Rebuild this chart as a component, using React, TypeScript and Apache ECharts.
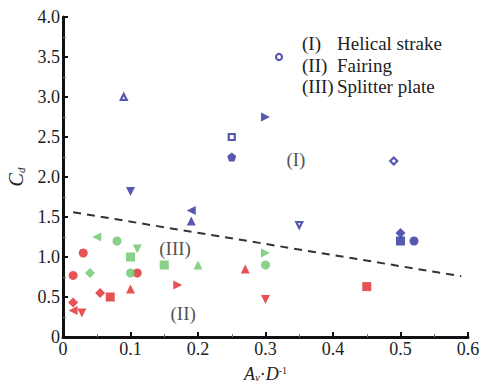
import React, { useEffect, useRef } from "react";
import * as echarts from "echarts";

// Helical strake (I)
const helicalX = [0.32, 0.09, 0.30, 0.25, 0.25, 0.49, 0.10, 0.19, 0.19, 0.35, 0.50, 0.50, 0.52];
const helicalY = [3.5, 3.0, 2.75, 2.5, 2.25, 2.2, 1.82, 1.58, 1.45, 1.4, 1.3, 1.2, 1.2];
const helicalShape = ["circle", "triangle", "right", "rect", "pentagon", "diamond", "down", "left", "triangle", "down", "diamond", "rect", "circle"];
const helicalOpen = [true, true, false, true, false, true, false, false, false, true, false, false, false];

// Fairing (II)
const fairingX = [0.03, 0.015, 0.11, 0.27, 0.10, 0.17, 0.055, 0.07, 0.45, 0.30, 0.015, 0.015, 0.028];
const fairingY = [1.05, 0.77, 0.8, 0.85, 0.6, 0.65, 0.55, 0.5, 0.63, 0.47, 0.43, 0.33, 0.3];
const fairingShape = ["circle", "circle", "circle", "triangle", "triangle", "right", "diamond", "rect", "rect", "down", "diamond", "left", "down"];

// Splitter plate (III)
const splitterX = [0.05, 0.08, 0.11, 0.10, 0.15, 0.20, 0.30, 0.30, 0.04, 0.10];
const splitterY = [1.25, 1.2, 1.1, 1.0, 0.9, 0.9, 1.05, 0.9, 0.8, 0.8];
const splitterShape = ["left", "circle", "down", "rect", "rect", "triangle", "right", "circle", "diamond", "circle"];

// Boundary (dashed)
const boundaryX = [0.015, 0.59];
const boundaryY = [1.56, 0.76];

const xTicks = [0, 0.1, 0.2, 0.3, 0.4, 0.5, 0.6];
const yTicks = [0, 0.5, 1.0, 1.5, 2.0, 2.5, 3.0, 3.5, 4.0];

const regionLabels = ["(I)", "(II)", "(III)"];
const regionX = [0.345, 0.178, 0.166];
const regionY = [2.22, 0.3, 1.11];

const legendTags = ["(I)", "(II)", "(III)"];
const legendNames = ["Helical strake", "Fairing", "Splitter plate"];

const BLUE = "#2d2f9e";
const RED = "#e0282d";
const GREEN = "#6cc46a";
const FONT = "Liberation Serif";

const SYMBOLS: Record<string, string> = {
  circle: "circle",
  rect: "rect",
  triangle: "triangle",
  diamond: "diamond",
  down: "path://M0,0 L10,0 L5,9 Z",
  left: "path://M9,0 L9,10 L0,5 Z",
  right: "path://M0,0 L0,10 L9,5 Z",
  pentagon: "path://M5,0 L10,3.8 L8.1,10 L1.9,10 L0,3.8 Z",
};

function points(xs: number[], ys: number[], shapes: string[], color: string, open?: boolean[]) {
  return xs.map((x, i) => {
    const o = open ? open[i] : false;
    const base = shapes[i] === "diamond" ? 10 : 9;
    return {
      value: [x, ys[i]],
      symbol: SYMBOLS[shapes[i]],
      symbolSize: o ? base - 3 : base,
      itemStyle: o
        ? { color: "#ffffff", borderColor: color, borderWidth: 2.2 }
        : { color, borderWidth: 0 },
    };
  });
}

export default function App() {
  const ref = useRef<HTMLDivElement>(null);
  useEffect(() => {
    document.body.style.margin = "0";
    const chart = echarts.init(ref.current!, null, { renderer: "svg" });
    const tickFmt = (v: number) => (v === 0 ? "0" : v.toFixed(1));
    const gridLeft = 63, gridRight = 13, gridTop = 17, gridBottom = 48;
    chart.setOption({
      animation: false,
      backgroundColor: "#ffffff",
      grid: {
        left: gridLeft,
        right: gridRight,
        top: gridTop,
        bottom: gridBottom,
        containLabel: false,
        outerBoundsMode: "none",
      },
      xAxis: {
        type: "value",
        min: xTicks[0],
        max: xTicks[xTicks.length - 1],
        interval: 0.1,
        axisLine: { show: true, lineStyle: { color: "#111", width: 3 } },
        axisTick: { show: true, inside: true, length: 5, lineStyle: { color: "#111", width: 2 } },
        minorTick: { show: true, splitNumber: 2, length: 3, lineStyle: { color: "#777", width: 1 } },
        splitLine: { show: false },
        axisLabel: { formatter: tickFmt, fontFamily: FONT, fontSize: 18, color: "#222", margin: 3 },
        name: "{i|A}{sub|v}{n|·}{i|D}{sup|-1}",
        nameLocation: "middle",
        nameGap: 28,
        nameTextStyle: {
          rich: {
            i: { fontFamily: FONT, fontStyle: "italic", fontSize: 18, color: "#222" },
            n: { fontFamily: FONT, fontSize: 18, color: "#222" },
            sub: { fontFamily: FONT, fontStyle: "italic", fontSize: 11, color: "#222", padding: [5, 0, 0, 0] },
            sup: { fontFamily: FONT, fontSize: 10, color: "#222", padding: [0, 0, 7, 0] },
          },
        },
      },
      yAxis: {
        type: "value",
        min: yTicks[0],
        max: yTicks[yTicks.length - 1],
        interval: 0.5,
        axisLine: { show: true, lineStyle: { color: "#111", width: 3 } },
        axisTick: { show: true, inside: true, length: 5, lineStyle: { color: "#111", width: 2 } },
        minorTick: { show: true, splitNumber: 2, length: 3, lineStyle: { color: "#777", width: 1 } },
        splitLine: { show: false },
        axisLabel: { formatter: tickFmt, fontFamily: FONT, fontSize: 18, color: "#222", margin: 3 },
        name: "{i|C}{sub|d}",
        nameLocation: "middle",
        nameRotate: 90,
        nameGap: 35,
        nameTextStyle: {
          rich: {
            i: { fontFamily: FONT, fontStyle: "italic", fontSize: 20, color: "#222" },
            sub: { fontFamily: FONT, fontStyle: "italic", fontSize: 11, color: "#222", padding: [10, 0, 0, 0] },
          },
        },
      },
      series: [
        {
          type: "line",
          data: boundaryX.map((x, i) => [x, boundaryY[i]]),
          showSymbol: false,
          symbol: "none",
          lineStyle: { color: "#333", width: 2, type: [8, 6] },
          z: 1,
        },
        { type: "scatter", data: points(helicalX, helicalY, helicalShape, BLUE, helicalOpen), z: 3 },
        { type: "scatter", data: points(fairingX, fairingY, fairingShape, RED), z: 3 },
        { type: "scatter", data: points(splitterX, splitterY, splitterShape, GREEN), z: 3 },
        {
          type: "scatter",
          symbolSize: 0,
          data: regionLabels.map((t, i) => ({ value: [regionX[i], regionY[i]], name: t })),
          label: {
            show: true,
            position: "inside",
            formatter: (p: any) => p.name,
            fontFamily: FONT,
            fontSize: 19,
            color: "#222",
          },
          z: 4,
        },
      ],
      graphic: [
        ...legendTags.map((t, i) => ({
          type: "text",
          left: 302,
          top: 34 + i * 21.5,
          style: { text: t, font: `19px ${FONT}`, fill: "#222" },
        })),
        ...legendNames.map((t, i) => ({
          type: "text",
          left: 337,
          top: 34 + i * 21.5,
          style: { text: t, font: `19px ${FONT}`, fill: "#222" },
        })),
      ],
    });
    return () => chart.dispose();
  }, []);
  return <div ref={ref} style={{ width: 481, height: 385 }} />;
}
